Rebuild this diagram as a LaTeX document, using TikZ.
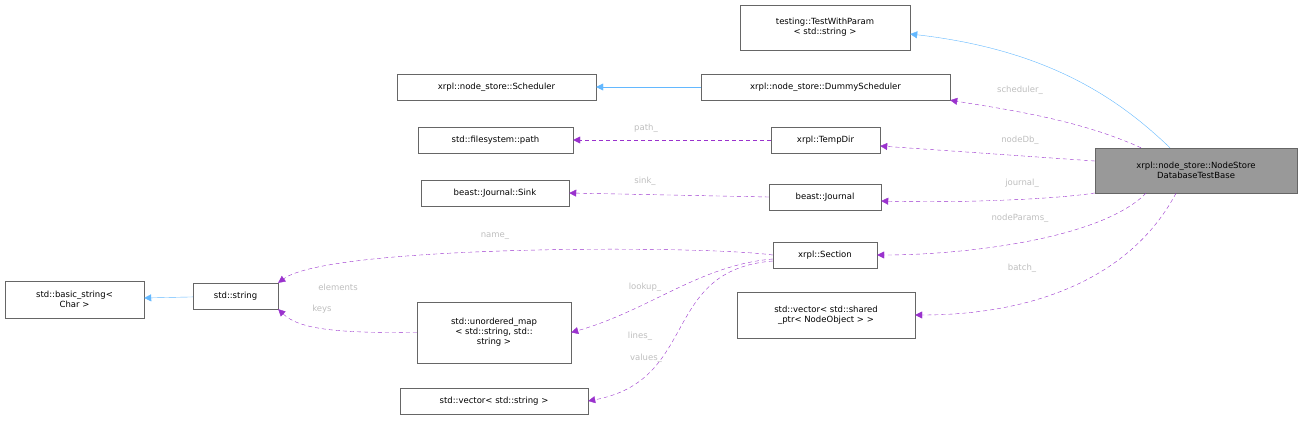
\documentclass[tikz,border=0pt]{standalone}
\usepackage{fontspec}
\setmainfont{DejaVu Sans}
\usetikzlibrary{arrows.meta}
\begin{document}
\begin{tikzpicture}[x=1pt,y=-1pt,
  box/.style={draw=black!60,fill=white,font=\fontsize{8.5}{10}\selectfont,align=center,inner sep=0pt,minimum height=26pt},
  inh/.style={draw={rgb,255:red,99;green,184;blue,255},-{Triangle[open=false,fill={rgb,255:red,99;green,184;blue,255},length=7pt,width=7pt]}},
  use/.style={draw={rgb,255:red,154;green,50;blue,205},dashed,dash pattern=on 4pt off 3pt,-{Triangle[fill={rgb,255:red,154;green,50;blue,205},length=7pt,width=7pt]}},
  lab/.style={text={rgb,255:red,190;green,190;blue,190},font=\fontsize{8.5}{10}\selectfont,inner sep=0pt}]
\useasboundingbox (0,0) rectangle (1302,423);
\node[box,minimum width=170pt,minimum height=45pt] (twp) at (825,27.5) {testing::TestWithParam\\< std::string >};
\node[box,minimum width=199pt] (sch) at (496.5,87) {xrpl::node\_store::Scheduler};
\node[box,minimum width=249pt] (dsch) at (825.5,87) {xrpl::node\_store::DummyScheduler};
\node[box,minimum width=155pt] (path) at (495.5,140) {std::filesystem::path};
\node[box,minimum width=109pt] (tmp) at (825.5,140) {xrpl::TempDir};
\node[box,minimum width=148pt] (sink) at (495,193) {beast::Journal::Sink};
\node[box,minimum width=112pt] (jr) at (825,197) {beast::Journal};
\node[box,minimum width=202pt,minimum height=45pt,fill=black!40] (nsb) at (1196,170.5) {xrpl::node\_store::NodeStore\\DatabaseTestBase};
\node[box,minimum width=104pt] (sec) at (825,255) {xrpl::Section};
\node[box,minimum width=139pt,minimum height=37pt] (bs) at (74.5,299.5) {std::basic\_string<\\Char >};
\node[box,minimum width=85pt] (str) at (235.5,296) {std::string};
\node[box,minimum width=154pt,minimum height=61pt] (um) at (494,332.5) {std::unordered\_map\\< std::string, std::\\string >};
\node[box,minimum width=178pt,minimum height=46pt] (vsp) at (826,315) {std::vector< std::shared\\\_ptr< NodeObject > >};
\node[box,minimum width=188pt] (vs) at (494,401) {std::vector< std::string >};

\draw[inh] (nsb.north) ++(-26,0) .. controls (1120,100) and (1050,50) .. (twp.east |- 0,34);
\draw[inh] (dsch) -- (sch);
\draw[inh] (str) -- (bs);
\draw[use] (nsb.north) ++(-55,0) .. controls (1080,120) and (1010,110) .. (dsch.south east);
\draw[use] (nsb.west |- 0,161) -- (tmp.east |- 0,146);
\draw[use] (nsb.west |- 0,193) .. controls (1050,200) and (950,203) .. (jr.east |- 0,201);
\draw[use] (nsb.south) ++(-50,0) .. controls (1100,240) and (960,255) .. (sec.east);
\draw[use] (nsb.south) ++(-20,0) .. controls (1130,280) and (1030,315) .. (vsp.east);
\draw[use] (tmp) -- (path);
\draw[use] (jr.west) -- (sink.east);
\draw[use] (sec.west) .. controls (700,245) and (330,245) .. (str.north east);
\draw[use] (sec.west) ++(0,4) .. controls (700,265) and (650,310) .. (um.east);
\draw[use] (sec.west) ++(0,6) .. controls (660,270) and (700,380) .. (vs.east);
\draw[use] (um.west) .. controls (340,333) and (300,330) .. (str.south east);

\node[lab] at (1020,90) {scheduler\_};
\node[lab] at (1020,140) {nodeDb\_};
\node[lab] at (1022,183) {journal\_};
\node[lab] at (1020,218) {nodeParams\_};
\node[lab] at (1022,268) {batch\_};
\node[lab] at (646,128) {path\_};
\node[lab] at (645,181) {sink\_};
\node[lab] at (495,236) {name\_};
\node[lab] at (645,287) {lookup\_};
\node[lab] at (640,336) {lines\_};
\node[lab] at (646,358) {values\_};
\node[lab] at (338,287) {elements};
\node[lab] at (322,309) {keys};
\end{tikzpicture}
\end{document}
